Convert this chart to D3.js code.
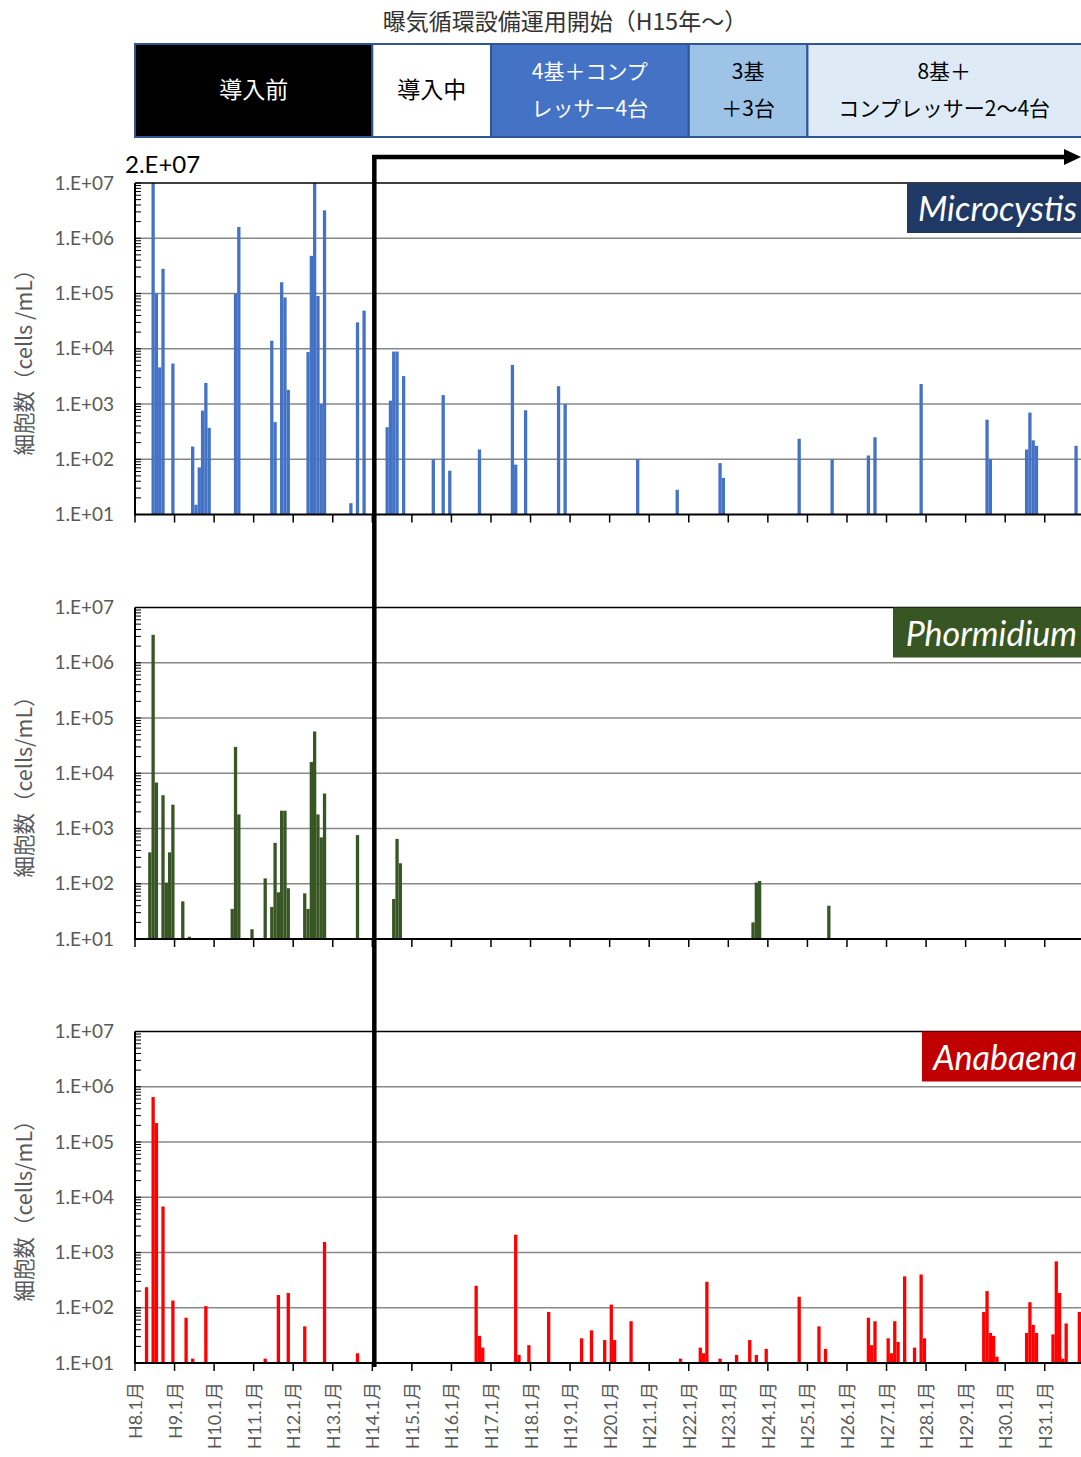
<!DOCTYPE html>
<html><head><meta charset="utf-8">
<script src="https://cdn.jsdelivr.net/npm/d3@7"></script>
<style>body{margin:0;background:#fff} svg{display:block}</style>
</head><body><svg id="c" width="1081" height="1457"></svg>
<script>
// ---------- DATA ----------
const titleText = "曝気循環設備運用開始（H15年～）";
const phaseStarts = ["H8.1", "H14.1", "H17.1", "H22.1", "H25.1"];
const phaseLines1 = ["導入前", "導入中", "4基＋コンプ", "3基", "8基＋"];
const phaseLines2 = ["", "", "レッサー4台", "＋3台", "コンプレッサー2～4台"];
const yearTickLabels = ["H8.1月","H9.1月","H10.1月","H11.1月","H12.1月","H13.1月","H14.1月","H15.1月",
  "H16.1月","H17.1月","H18.1月","H19.1月","H20.1月","H21.1月","H22.1月","H23.1月","H24.1月",
  "H25.1月","H26.1月","H27.1月","H28.1月","H29.1月","H30.1月","H31.1月"];
const yTickValues = [1e1, 1e2, 1e3, 1e4, 1e5, 1e6, 1e7];

const microMonths = ["H8.6","H8.7","H8.8","H8.9","H8.12","H9.6","H9.7","H9.8","H9.9","H9.10","H9.11",
  "H10.7","H10.8","H11.6","H11.7","H11.9","H11.10","H11.11","H12.5","H12.6","H12.7","H12.8","H12.9","H12.10",
  "H13.6","H13.8","H13.10","H14.5","H14.6","H14.7","H14.8","H14.10","H15.7","H15.10","H15.12","H16.9",
  "H17.7","H17.8","H17.11","H18.9","H18.11","H20.9","H21.9","H22.10","H22.11","H24.10","H25.8","H26.7",
  "H26.9","H27.11","H29.7","H29.8","H30.7","H30.8","H30.9","H30.10","H31.10"];
const microValues = [2e7,1e5,4600,2.8e5,5400,170,15,71,760,2400,370,
  1e5,1.6e6,1.4e4,470,1.6e5,8.5e4,1800,8700,4.8e5,1e7,9e4,1000,3.2e6,
  16,3e4,4.9e4,380,1150,8900,8900,3200,100,1450,62,150,
  5100,80,770,2100,1000,100,28,85,46,235,100,117,
  250,2300,520,100,150,700,220,175,175];

const phormMonths = ["H8.5","H8.6","H8.7","H8.9","H8.10","H8.11","H8.12","H9.3","H9.5","H10.6","H10.7",
  "H10.8","H10.12","H11.4","H11.6","H11.7","H11.8","H11.9","H11.10","H11.11","H12.4","H12.5","H12.6",
  "H12.7","H12.8","H12.9","H12.10","H13.8","H14.7","H14.8","H14.9","H23.8","H23.9","H23.10","H25.7"];
const phormValues = [370,3.2e6,6800,4000,105,370,2700,48,11,35,3e4,
  1800,15,125,38,550,70,2100,2100,83,67,35,1.6e4,
  5.7e4,1800,690,4300,760,53,650,235,20,105,112,40];

const anabMonths = ["H8.4","H8.6","H8.7","H8.9","H8.12","H9.4","H9.6","H9.10","H11.4","H11.8","H11.11",
  "H12.4","H12.10","H13.8","H16.8","H16.9","H16.10","H17.8","H17.9","H17.12","H18.6","H19.4","H19.7",
  "H19.11","H20.1","H20.2","H20.7","H21.10","H22.4","H22.5","H22.6","H22.10","H23.3","H23.7","H23.9",
  "H23.12","H24.10","H25.4","H25.6","H26.7","H26.8","H26.9","H27.1","H27.2","H27.3","H27.4","H27.6",
  "H27.9","H27.11","H27.12","H29.6","H29.7","H29.8","H29.9","H29.10","H30.7","H30.8","H30.9","H30.10",
  "H31.3","H31.4","H31.5","H31.6","H31.7","H31.11"];
const anabValues = [235,6.5e5,2.2e5,6800,135,66,12,107,12,170,185,
  46,1550,15,250,31,19,2100,14,21,84,28,39,
  26,114,26,57,12,19,15,295,12,14,26,14,
  18,158,46,18,66,21,57,28,15,57,24,370,
  19,400,28,84,200,35,31,13,35,126,49,35,
  33,690,185,12,52,84];

// ---------- LAYOUT ----------
const svg = d3.select("#c");
const L = 135, R = 1081;
const months = [];
for (let yr = 8; yr <= 31; yr++) for (let mo = 1; mo <= 12; mo++) {
  if (yr === 31 && mo > 11) break;
  months.push(`H${yr}.${mo}`);
}
const x = d3.scaleBand().domain(months).range([L, R]).padding(0);
const numFont = "Lato, 'Noto Sans CJK JP', sans-serif";
const jpFont = "'Noto Sans CJK JP', sans-serif";
const gray = "#595959";

svg.append("text").attr("x", 565).attr("y", 30).attr("text-anchor", "middle")
  .attr("font-family", jpFont).attr("font-size", 23).attr("fill", "#333").text(titleText);

const phaseFill = ["#000000", "#ffffff", "#4472C4", "#9DC3E6", "#DEEBF7"];
const phaseText = ["#ffffff", "#000000", "#ffffff", "#000000", "#000000"];
phaseStarts.forEach((s, i) => {
  const x0 = x(s), x1 = i < phaseStarts.length - 1 ? x(phaseStarts[i + 1]) : R + 2;
  svg.append("rect").attr("x", x0).attr("y", 44).attr("width", x1 - x0).attr("height", 93)
    .attr("fill", phaseFill[i]).attr("stroke", "#2F5597").attr("stroke-width", 2);
  const cx = (x0 + Math.min(x1, R)) / 2;
  if (phaseLines2[i]) {
    svg.append("text").attr("x", cx).attr("y", 79).attr("text-anchor", "middle")
      .attr("font-family", jpFont).attr("font-size", 21).attr("fill", phaseText[i]).text(phaseLines1[i]);
    svg.append("text").attr("x", cx).attr("y", 116).attr("text-anchor", "middle")
      .attr("font-family", jpFont).attr("font-size", 21).attr("fill", phaseText[i]).text(phaseLines2[i]);
  } else {
    svg.append("text").attr("x", cx).attr("y", 98).attr("text-anchor", "middle")
      .attr("font-family", jpFont).attr("font-size", 23).attr("fill", phaseText[i]).text(phaseLines1[i]);
  }
});

function fmt(v) { return "1.E+" + String(Math.round(Math.log10(v))).padStart(2, "0"); }

function drawPanel(top, mArr, vArr, color, name, nameBg, nameX, yTitle, showLabels) {
  const bottom = top + 331.5;
  const y = d3.scaleLog().domain([10, 1e7]).range([bottom, top]).clamp(true);
  const g = svg.append("g");
  g.selectAll(".grid").data(yTickValues.slice(1, -1)).join("line")
    .attr("x1", L).attr("x2", R).attr("y1", d => y(d)).attr("y2", d => y(d))
    .attr("stroke", "#888").attr("stroke-width", 1.5);
  g.selectAll(".bar").data(mArr.map((m, i) => ({ m, v: vArr[i] }))).join("rect")
    .attr("x", d => x(d.m)).attr("width", x.bandwidth())
    .attr("y", d => y(d.v)).attr("height", d => bottom - y(d.v))
    .attr("fill", color);
  g.append("line").attr("x1", L).attr("x2", R).attr("y1", top).attr("y2", top)
    .attr("stroke", "#000").attr("stroke-width", 1.5);
  const minor = [];
  for (let k = 1; k < 7; k++) for (let j = 1; j <= 9; j++) minor.push(j * Math.pow(10, k));
  minor.push(1e7);
  g.selectAll(".mt").data(minor).join("line")
    .attr("x1", L).attr("x2", L + 6).attr("y1", d => y(d)).attr("y2", d => y(d))
    .attr("stroke", "#000").attr("stroke-width", 1);
  g.append("line").attr("x1", L).attr("x2", L).attr("y1", top).attr("y2", bottom + 1)
    .attr("stroke", "#000").attr("stroke-width", 2);
  g.append("line").attr("x1", L).attr("x2", R).attr("y1", bottom).attr("y2", bottom)
    .attr("stroke", "#000").attr("stroke-width", 2);
  const yearStarts = months.filter(m => m.endsWith(".1"));
  g.selectAll(".xt").data(yearStarts).join("line")
    .attr("x1", d => x(d)).attr("x2", d => x(d)).attr("y1", bottom).attr("y2", bottom + 8)
    .attr("stroke", "#000").attr("stroke-width", 1.5);
  g.selectAll(".yl").data(yTickValues).join("text")
    .attr("x", 114).attr("y", d => y(d) + 6.5).attr("text-anchor", "end")
    .attr("font-family", numFont).attr("font-size", 19).attr("fill", gray).text(fmt);
  g.append("text").attr("transform", `translate(32,${top + 174}) rotate(-90)`)
    .attr("text-anchor", "middle").attr("font-family", jpFont).attr("font-size", 21.5)
    .attr("fill", gray).text(yTitle);
  g.append("rect").attr("x", nameX).attr("y", top).attr("width", R - nameX).attr("height", 50)
    .attr("fill", nameBg);
  g.append("text").attr("x", R - 4).attr("y", top + 38).attr("text-anchor", "end")
    .attr("font-family", numFont).attr("font-style", "italic").attr("font-size", 34)
    .attr("fill", "#fff").text(name);
  if (showLabels) {
    g.selectAll(".xl").data(yearStarts).join("text")
      .attr("transform", d => `translate(${x(d) + 7},${bottom + 19}) rotate(-90)`)
      .attr("text-anchor", "end").attr("font-family", numFont).attr("font-size", 18)
      .attr("fill", gray).text((d, i) => yearTickLabels[i]);
  }
  return y;
}

drawPanel(183, microMonths, microValues, "#4472C4", "Microcystis", "#203864", 907, "細胞数（cells /mL）", false);
drawPanel(607.5, phormMonths, phormValues, "#375623", "Phormidium", "#375623", 893, "細胞数（cells/mL）", false);
drawPanel(1031.5, anabMonths, anabValues, "#FF0000", "Anabaena", "#C00000", 922, "細胞数（cells/mL）", true);

svg.append("text").attr("x", 125).attr("y", 173).attr("font-family", numFont)
  .attr("font-size", 24).attr("fill", "#000").text("2.E+07");

const sx = x("H14.1") + 2;
svg.append("line").attr("x1", sx).attr("x2", sx).attr("y1", 155).attr("y2", 1367)
  .attr("stroke", "#000").attr("stroke-width", 4.5);
svg.append("line").attr("x1", sx - 2).attr("x2", 1066).attr("y1", 157).attr("y2", 157)
  .attr("stroke", "#000").attr("stroke-width", 4.5);
svg.append("path").attr("d", "M1064,149 L1081,157 L1064,165 Z").attr("fill", "#000");
</script></body></html>
